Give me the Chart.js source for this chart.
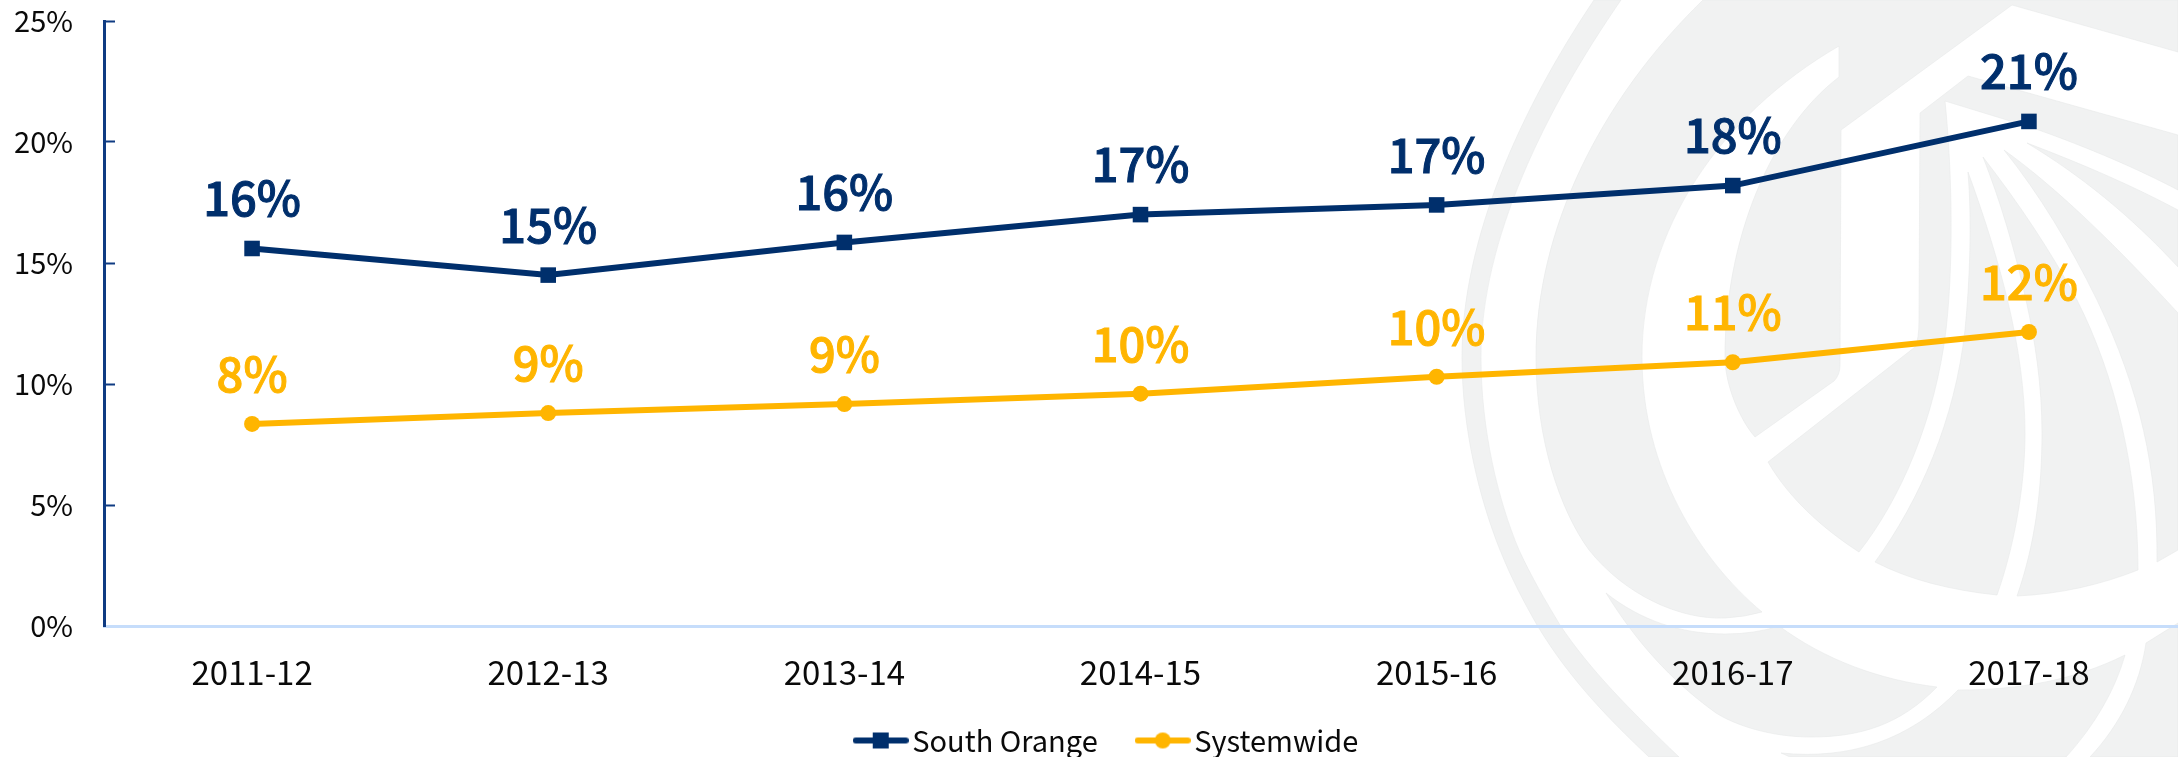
<!DOCTYPE html>
<html>
<head>
<meta charset="utf-8">
<title>South Orange vs Systemwide</title>
<script src="https://cdn.jsdelivr.net/npm/chart.js@4"></script>
<style>
	html, body { margin: 0; padding: 0; background: #fff; overflow: hidden; }
	#wrap { width: 2178px; height: 757px; }
</style>
</head>
<body>
<div id="wrap"><canvas id="trend"></canvas></div>
<script>
const years = ['2011-12', '2012-13', '2013-14', '2014-15', '2015-16', '2016-17', '2017-18'];
const southOrange = [15.6, 14.5, 15.85, 17.0, 17.4, 18.2, 20.85];
const systemwide = [8.35, 8.8, 9.17, 9.6, 10.3, 10.9, 12.15];
const southOrangeLabels = ['16%', '15%', '16%', '17%', '17%', '18%', '21%'];
const systemwideLabels = ['8%', '9%', '9%', '10%', '10%', '11%', '12%'];

const navy = '#002f6c';
const gold = '#ffb500';
const fontName = '"Noto Sans CJK SC", "Noto Sans", sans-serif';

// faint logo behind the plot
const watermark = [
	'M1594 0 C1520 110 1462 240 1462 357 C1462 430 1480 500 1500 550 C1512 580 1524 602 1537 625 C1570 680 1610 720 1649 757 L1679 757 C1630 710 1590 670 1560 625 C1545 600 1532 578 1519 550 C1498 500 1481 430 1481 357 C1481 240 1545 110 1621 0 Z',
	'M1703 0 C1600 100 1536 230 1536 357 C1536 440 1560 510 1589 550 C1625 595 1680 620 1725 618 Q1745 617 1762 612 C1700 560 1642 470 1642 357 C1642 230 1720 115 1839 46 L1839 77 C1770 130 1725 240 1725 357 C1725 385 1740 420 1755 437 L1834 381 Q1840 375 1840 365 L1841 130 L2012 5 L2178 52 L2178 0 Z',
	'M1968 76 L1920 113 L1919 320 Q1919 340 1915 347 L1768 462 C1790 500 1825 530 1859 552 C1900 500 1935 420 1946 330 C1953 270 1953 180 1945 101 L2033 128 C2090 148 2140 170 2178 190 L2178 135 Z',
	'M1968 172 C2000 260 2025 350 2025 433 C2025 490 2013 550 1997 595 C1950 590 1910 580 1875 562 C1920 500 1955 420 1965 330 C1970 280 1972 220 1968 172 Z',
	'M1983 157 C2020 205 2050 250 2077 300 C2115 375 2138 470 2138 570 C2100 585 2060 594 2017 596 C2035 545 2042 490 2042 433 C2042 385 2035 340 2026 300 C2015 250 2000 200 1983 157 Z',
	'M2004 150 C2060 190 2120 250 2178 313 L2178 550 L2157 562 C2158 470 2140 390 2097 300 C2070 245 2040 195 2004 150 Z',
	'M2027 143 C2085 165 2135 187 2178 210 L2178 267 C2130 215 2080 175 2027 143 Z',
	'M1606 593 C1640 620 1680 634 1725 634 Q1755 634 1779 626 C1825 660 1880 680 1937 687 C1900 725 1860 737 1811 737 C1770 737 1735 725 1716 713 C1670 680 1635 640 1606 593 Z',
	'M1781 753 C1850 760 1910 740 1958 690 C2020 690 2075 680 2125 655 C2115 690 2095 725 2066 757 L1790 757 Z',
	'M2146 643 L2178 623 L2178 757 L2090 757 C2120 725 2140 685 2146 643 Z'
];

const watermarkPlugin = {
	id: 'watermark',
	beforeDraw(chart) {
		const ctx = chart.ctx;
		ctx.save();
		ctx.fillStyle = '#f1f2f2';
		ctx.strokeStyle = '#e7e9e9';
		ctx.lineWidth = 0.6;
		watermark.forEach(d => {
			const p = new Path2D(d);
			ctx.fill(p);
			ctx.stroke(p);
		});
		ctx.restore();
	}
};

const valueLabelPlugin = {
	id: 'valueLabels',
	afterDatasetsDraw(chart) {
		const ctx = chart.ctx;
		const texts = [southOrangeLabels, systemwideLabels];
		ctx.save();
		ctx.font = '500 47px ' + fontName;
		ctx.textAlign = 'center';
		ctx.textBaseline = 'middle';
		ctx.lineWidth = 1;
		chart.data.datasets.forEach((ds, i) => {
			ctx.fillStyle = ds.borderColor;
			ctx.strokeStyle = ds.borderColor;
			chart.getDatasetMeta(i).data.forEach((pt, j) => {
				ctx.fillText(texts[i][j], pt.x, pt.y - 50);
				ctx.strokeText(texts[i][j], pt.x, pt.y - 50);
			});
		});
		ctx.restore();
	}
};

// layout leaves a gap right of the x axis for the last label, and the legend box
// is tall because labels.padding also sets the gap between items, so place both here
const placeBoxesPlugin = {
	id: 'placeBoxes',
	afterLayout(chart) {
		chart.legend.left = 19;
		chart.legend.right = 2203;
		chart.legend.top = 678;
		const x = chart.scales.x;
		x.right = 2177;
		x.width = x.right - x.left;
		x.configure();
		chart.chartArea.right = 2177;
		chart.chartArea.width = x.width;
	}
};

function legendSwatch(color, style) {
	const c = document.createElement('canvas');
	c.width = 56;
	c.height = 20;
	const g = c.getContext('2d');
	g.strokeStyle = color;
	g.fillStyle = color;
	g.lineWidth = 6;
	g.lineCap = 'round';
	g.beginPath();
	g.moveTo(3, 10);
	g.lineTo(53, 10);
	g.stroke();
	if (style === 'rect') {
		g.fillRect(20, 2, 16, 16);
	} else {
		g.beginPath();
		g.arc(28, 10, 8, 0, Math.PI * 2);
		g.fill();
	}
	return c;
}

new Chart(document.getElementById('trend'), {
	type: 'line',
	data: {
		labels: years,
		datasets: [
			{
				label: 'South Orange',
				data: southOrange,
				borderColor: navy,
				backgroundColor: navy,
				borderWidth: 6,
				pointStyle: 'rect',
				pointRadius: 11,
				pointBorderWidth: 0,
				tension: 0
			},
			{
				label: 'Systemwide',
				data: systemwide,
				borderColor: gold,
				backgroundColor: gold,
				borderWidth: 6,
				pointStyle: 'circle',
				pointRadius: 8,
				pointBorderWidth: 0,
				tension: 0
			}
		]
	},
	options: {
		responsive: true,
		maintainAspectRatio: false,
		animation: false,
		layout: { padding: { left: 0, right: 1, top: 21, bottom: -26 } },
		plugins: {
			tooltip: { enabled: false },
			legend: {
				position: 'bottom',
				labels: {
					usePointStyle: true,
					pointStyleWidth: 34,
					padding: 48,
					color: '#0a0a0a',
					font: { family: fontName, size: 29 },
					generateLabels(chart) {
						return chart.data.datasets.map((ds, i) => ({
							text: ds.label,
							datasetIndex: i,
							fontColor: '#0a0a0a',
							lineWidth: 0,
							pointStyle: legendSwatch(ds.borderColor, ds.pointStyle)
						}));
					}
				}
			}
		},
		scales: {
			x: {
				offset: true,
				afterFit(s) {
					s.height = 70;
					s.paddingLeft = 0;
					s.paddingRight = 0;
				},
				border: { color: '#c6ddfb', width: 3 },
				grid: { drawOnChartArea: false, drawTicks: false },
				ticks: {
					color: '#0a0a0a',
					padding: 27,
					maxRotation: 0,
					autoSkip: false,
					font: { family: fontName, size: 33 }
				}
			},
			y: {
				min: 0,
				max: 25,
				afterFit(s) {
					s.width = 104;
					s.paddingTop = 0;
					s.paddingBottom = 0;
				},
				border: { color: '#0f3b82', width: 3 },
				grid: {
					drawOnChartArea: false,
					tickLength: -11,
					tickColor: '#0f3b82',
					tickWidth: 2
				},
				ticks: {
					stepSize: 5,
					color: '#0a0a0a',
					padding: 42,
					font: { family: fontName, size: 29 },
					callback: v => v + '%'
				}
			}
		}
	},
	plugins: [watermarkPlugin, valueLabelPlugin, placeBoxesPlugin]
});
</script>
</body>
</html>
